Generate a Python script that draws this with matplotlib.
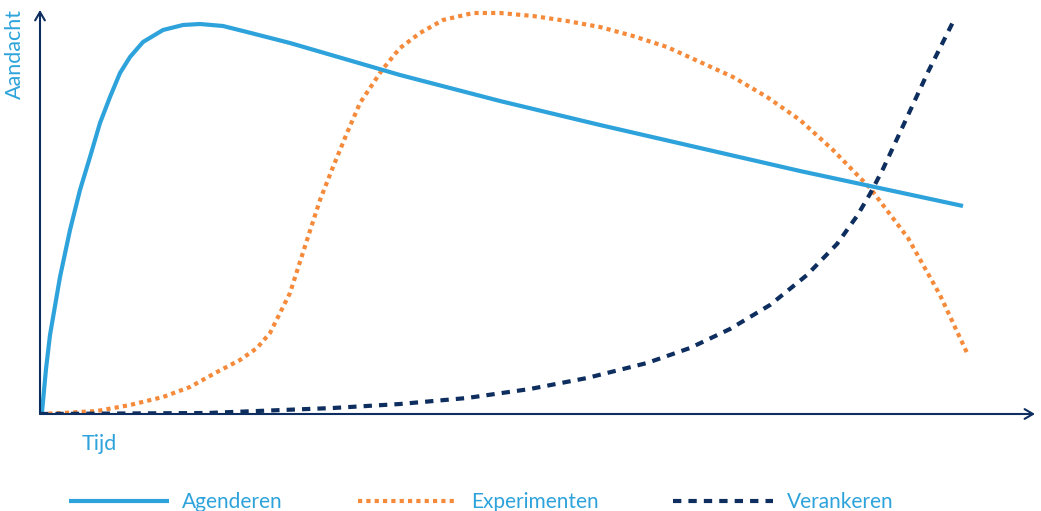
import matplotlib.pyplot as plt
from matplotlib.lines import Line2D

plt.rcParams['font.family'] = ['Lato', 'DejaVu Sans']

# values (time units / attention units, no ticks in original)
agenderen_t = [0, 2, 6, 10, 20, 30, 40, 50, 60, 70, 80, 90, 103, 123, 143, 160, 183, 207,
               250, 360, 460, 560, 660, 760, 830, 923]
agenderen_a = [0, 2, 45, 79, 137, 184, 224, 257, 291, 317, 341, 357, 372, 384, 389, 390, 388, 382,
               371, 339, 313, 289, 266, 243, 228, 208]

experimenten_t = [0, 23, 57, 90, 123, 150, 177, 200, 217, 230, 240, 250, 267, 280, 293,
                  307, 320, 342, 360, 380, 403, 433, 460, 493, 527, 560, 593, 627, 660,
                  693, 727, 760, 793, 830, 868, 900, 928]
experimenten_a = [0, 1, 3, 9, 17, 27, 42, 54, 66, 81, 101, 121, 174, 214, 247,
                  281, 311, 344, 366, 381, 394, 401, 401, 398, 393, 387, 378, 367, 352,
                  337, 317, 294, 264, 226, 176, 119, 59]

verankeren_t = [0, 167, 293, 360, 427, 490, 547, 607, 650, 690, 730, 767, 797, 817, 830,
                843, 863, 888, 913]
verankeren_a = [0, 1, 6, 10, 16, 25, 36, 51, 66, 85, 109, 139, 170, 198, 220,
                245, 288, 342, 392]

BLUE = '#2ea3db'
ORANGE = '#f58a3a'
NAVY = '#0d2e5e'

fig = plt.figure(figsize=(10.41, 5.11), dpi=100)
ax = fig.add_axes([40 / 1041, 97 / 511, 995 / 1041, 404 / 511])
ax.set_xlim(0, 995)
ax.set_ylim(0, 404)
for s in ax.spines.values():
    s.set_visible(False)
ax.set_xticks([])
ax.set_yticks([])
ax.patch.set_alpha(0)

ax.plot(agenderen_t, agenderen_a, color=BLUE, lw=3, solid_capstyle='butt',
        solid_joinstyle='round', zorder=3)
ax.plot(experimenten_t, experimenten_a, color=ORANGE, lw=3, linestyle=(0, (1, 1)),
        dash_capstyle='butt', zorder=2)
ax.plot(verankeren_t, verankeren_a, color=NAVY, lw=3, linestyle=(0, (2, 1.7)),
        dash_capstyle='butt', zorder=4)

# axes with open arrow heads
arrow = dict(arrowstyle='->,head_length=0.6,head_width=0.35', color=NAVY, lw=1.5,
             shrinkA=0, shrinkB=0)
ax.annotate('', xy=(1, 0), xytext=(0, 0), xycoords='axes fraction', arrowprops=arrow,
            zorder=5)
ax.annotate('', xy=(0, 1), xytext=(0, 0), xycoords='axes fraction', arrowprops=arrow,
            zorder=5)

fig.text(15 / 1041, 1 - 54 / 511, 'Aandacht', rotation=90, color=BLUE, fontsize=15.5,
         ha='center', va='center')
fig.text(82 / 1041, 1 - 444 / 511, 'Tijd', color=BLUE, fontsize=15.5,
         ha='left', va='center')

handles = [
    Line2D([], [], color=BLUE, lw=3, solid_capstyle='butt'),
    Line2D([], [], color=ORANGE, lw=3, linestyle=(0, (1, 1)), dash_capstyle='butt'),
    Line2D([], [], color=NAVY, lw=3, linestyle=(0, (2, 1.7)), dash_capstyle='butt'),
]
leg = fig.legend(handles, ['Agenderen', 'Experimenten', 'Verankeren'], ncol=3,
                 loc='center', bbox_to_anchor=(481 / 1041, 9 / 511), frameon=False,
                 fontsize=15, handlelength=4.8, handletextpad=0.63, columnspacing=3.6,
                 borderaxespad=0, borderpad=0)
for t in leg.get_texts():
    t.set_color(BLUE)

fig.savefig('out.png', dpi=100)
